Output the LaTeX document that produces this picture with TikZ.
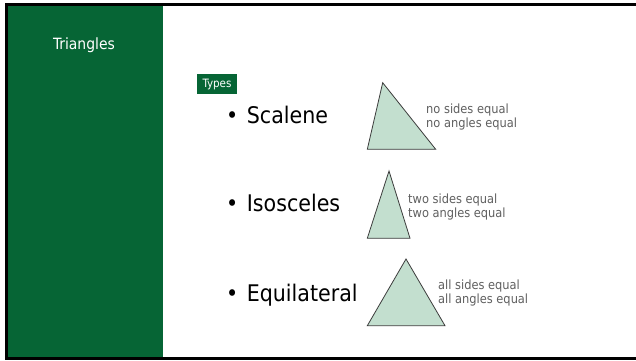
\documentclass[tikz,border=0pt]{standalone}
\usepackage{fontspec}
\setmainfont{DejaVu Sans Condensed}
\begin{document}
\begin{tikzpicture}[x=1pt,y=-1pt,
  slidegreen/.style={fill=panelgreen,draw=none},
  bullettext/.style={anchor=west,font=\fontsize{22.9}{27}\selectfont,text=black,inner sep=0pt},
  note/.style={anchor=west,font=\fontsize{12.7}{14}\selectfont,text=notegray,align=left,inner sep=0pt},
  tri/.style={fill=trifill,draw=tristroke,line width=0.8pt,line join=miter}]
\definecolor{panelgreen}{HTML}{066535}
\definecolor{trifill}{HTML}{C3DFCF}
\definecolor{tristroke}{HTML}{3C3C3C}
\definecolor{notegray}{HTML}{606060}
\useasboundingbox (0,0) rectangle (636,360);
\fill[white] (0,0) rectangle (636,360);
% left title panel
\fill[slidegreen] (8,6) rectangle (163,357);
% slide frame
\draw[black,line width=3pt] (6.5,4.5) rectangle (660,358.5);
\node[font=\fontsize{15.5}{18}\selectfont,text=white] (title) at (84,45) {Triangles};
% section tag
\node[fill=panelgreen,text=white,font=\fontsize{11.5}{13}\selectfont,minimum width=40pt,minimum height=20pt,inner sep=0pt] (types) at (217,84) {Types};
% bullet list
\node[bullettext] (scalene) at (226,115) {\textbullet\hspace{8.5pt}Scalene};
\node[bullettext] (isosceles) at (226,203) {\textbullet\hspace{8.5pt}Isosceles};
\node[bullettext] (equilateral) at (226,295) {\textbullet\hspace{8.5pt}Equilateral};
% triangles
\draw[tri] (382.7,82.7) -- (435.7,149.3) -- (367.3,149.3) -- cycle;
\draw[tri] (389,171) -- (410,238.3) -- (367.3,238.3) -- cycle;
\draw[tri] (406,259) -- (445,325.7) -- (367.3,325.7) -- cycle;
% descriptions
\node[note] (n1) at (426,116.7) {no sides equal\\no angles equal};
\node[note] (n2) at (408,207) {two sides equal\\two angles equal};
\node[note] (n3) at (438,293) {all sides equal\\all angles equal};
\end{tikzpicture}
\end{document}
